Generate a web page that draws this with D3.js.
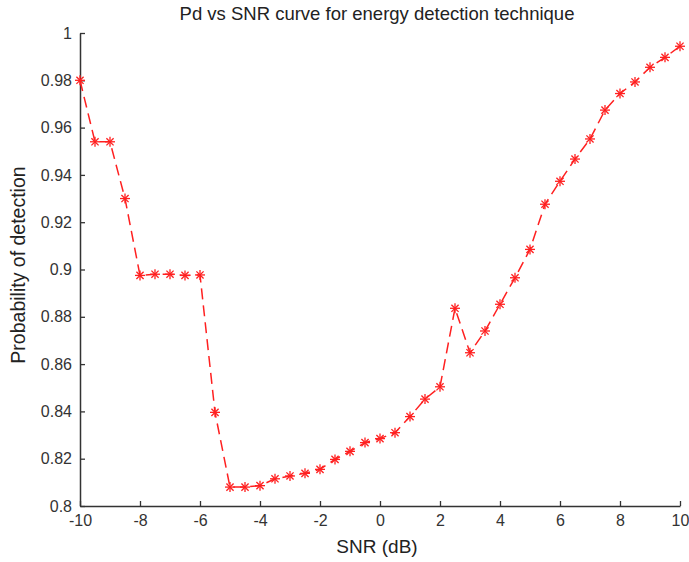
<!DOCTYPE html>
<html><head><meta charset="utf-8">
<script src="https://cdn.jsdelivr.net/npm/d3@7"></script>
<style>body{margin:0;background:#fff}svg{display:block}</style>
</head><body>
<script>
const snr = [-10,-9.5,-9,-8.5,-8,-7.5,-7,-6.5,-6,-5.5,-5,-4.5,-4,-3.5,-3,-2.5,-2,-1.5,-1,-0.5,0,0.5,1,1.5,2,2.5,3,3.5,4,4.5,5,5.5,6,6.5,7,7.5,8,8.5,9,9.5,10];
const pd = [0.980,0.954,0.954,0.930,0.8975,0.898,0.898,0.8975,0.8977,0.8396,0.808,0.808,0.8086,0.8115,0.8127,0.8138,0.8155,0.8197,0.8231,0.8268,0.8285,0.831,0.8378,0.8452,0.8504,0.8836,0.8648,0.874,0.8853,0.8965,0.9085,0.9276,0.9373,0.9467,0.9552,0.9674,0.9744,0.9793,0.9855,0.9897,0.9944];
const xTicks = [-10,-8,-6,-4,-2,0,2,4,6,8,10];
const xTickLabels = ["-10","-8","-6","-4","-2","0","2","4","6","8","10"];
const yTicks = [0.8,0.82,0.84,0.86,0.88,0.9,0.92,0.94,0.96,0.98,1];
const yTickLabels = ["0.8","0.82","0.84","0.86","0.88","0.9","0.92","0.94","0.96","0.98","1"];

const W=689,H=562;
const svg=d3.select("body").append("svg").attr("width",W).attr("height",H);
const x=d3.scaleLinear().domain([-10,10]).range([80,680]);
const y=d3.scaleLinear().domain([0.8,1]).range([506,33]);
const axisColor="#333";
const font="'Liberation Sans', Arial, sans-serif";

const gx=svg.append("g").attr("transform","translate(0,506)")
  .call(d3.axisBottom(x).tickValues(xTicks).tickSizeInner(-5).tickSizeOuter(0).tickPadding(9).tickFormat((d,i)=>xTickLabels[i]));
const gy=svg.append("g").attr("transform","translate(80,0)")
  .call(d3.axisLeft(y).tickValues(yTicks).tickSizeInner(-5).tickSizeOuter(0).tickPadding(8).tickFormat((d,i)=>yTickLabels[i]));
[gx,gy].forEach(g=>{
  g.select(".domain").attr("stroke",axisColor).attr("stroke-width",1.5);
  g.selectAll(".tick line").attr("stroke",axisColor).attr("stroke-width",1.3);
  g.selectAll(".tick text").attr("fill","#333").style("font-family",font).style("font-size","16px");
});

const line=d3.line().x((d,i)=>x(snr[i])).y(d=>y(d));
svg.append("path").datum(pd).attr("d",line).attr("fill","none")
  .attr("stroke","#ff2020").attr("stroke-width",1.5).attr("stroke-dasharray","11,6");

const r=5, rd=3.6;
const mk=svg.append("g").attr("stroke","#ff2020").attr("stroke-width",1.3);
pd.forEach((v,i)=>{
  const cx=x(snr[i]), cy=y(v);
  const g=mk.append("g").attr("transform",`translate(${cx},${cy})`);
  g.append("line").attr("x1",-r).attr("x2",r).attr("y1",0).attr("y2",0);
  g.append("line").attr("x1",0).attr("x2",0).attr("y1",-r).attr("y2",r);
  g.append("line").attr("x1",-rd).attr("x2",rd).attr("y1",-rd).attr("y2",rd);
  g.append("line").attr("x1",-rd).attr("x2",rd).attr("y1",rd).attr("y2",-rd);
});

svg.append("text").attr("x",377).attr("y",20).attr("text-anchor","middle")
  .style("font-family",font).style("font-size","18.5px").attr("fill","#222")
  .text("Pd vs SNR curve for energy detection technique");
svg.append("text").attr("x",377).attr("y",553).attr("text-anchor","middle")
  .style("font-family",font).style("font-size","19px").attr("fill","#222")
  .text("SNR (dB)");
svg.append("text").attr("transform","translate(25,265) rotate(-90)").attr("text-anchor","middle")
  .style("font-family",font).style("font-size","19.5px").attr("fill","#222")
  .text("Probability of detection");
</script>
</body></html>
